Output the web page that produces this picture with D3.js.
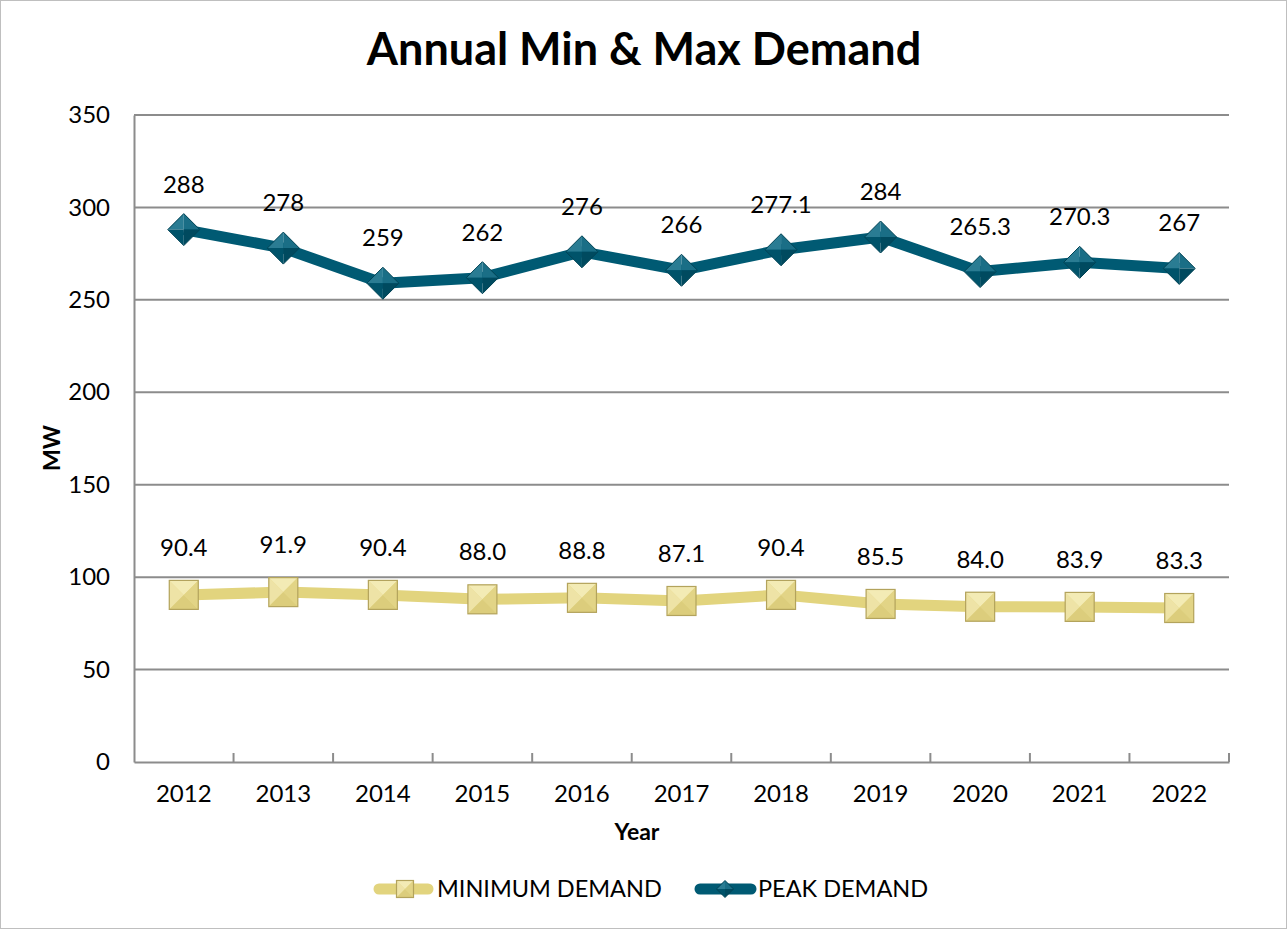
<!DOCTYPE html>
<html><head><meta charset="utf-8">
<script src="https://cdn.jsdelivr.net/npm/d3@7/dist/d3.min.js"></script>
<style>body{margin:0;background:#fff}svg{display:block}</style>
</head><body><svg id="c" width="1288" height="930"></svg>
<script>
const years = ["2012","2013","2014","2015","2016","2017","2018","2019","2020","2021","2022"];
const peakDemand = [288,278,259,262,276,266,277.1,284,265.3,270.3,267];
const peakLabels = ["288","278","259","262","276","266","277.1","284","265.3","270.3","267"];
const minDemand = [90.4,91.9,90.4,88.0,88.8,87.1,90.4,85.5,84.0,83.9,83.3];
const minLabels = ["90.4","91.9","90.4","88.0","88.8","87.1","90.4","85.5","84.0","83.9","83.3"];
const yTicks = [0,50,100,150,200,250,300,350];

const FONT = "Lato, 'Open Sans', sans-serif";
const svg = d3.select("#c");
svg.append("rect").attr("x",0.5).attr("y",0.5).attr("width",1286).attr("height",928)
  .attr("fill","#fff").attr("stroke","#bfbfbf").attr("stroke-width",1);

const L=134,R=1229,T=115,B=762;
const x = d3.scaleBand().domain(years).range([L,R]).padding(0);
const y = d3.scaleLinear().domain([0,350]).range([B,T]);
const cx = d => x(d)+x.bandwidth()/2;

// gridlines
svg.append("g").selectAll("line").data(yTicks.filter(t=>t>0)).join("line")
  .attr("x1",L).attr("x2",R).attr("y1",d=>y(d)).attr("y2",d=>y(d))
  .attr("stroke","#8c8c8c").attr("stroke-width",2);

// y axis
const ya = svg.append("g").attr("transform",`translate(${L},0)`)
  .call(d3.axisLeft(y).tickValues(yTicks).tickSize(0).tickPadding(24));
ya.select(".domain").attr("stroke","#8c8c8c").attr("stroke-width",2);
ya.selectAll("text").attr("font-family",FONT).attr("font-size",24).attr("fill","#000");

// x axis
const xa = svg.append("g").attr("transform",`translate(0,${B})`)
  .call(d3.axisBottom(x).tickSize(0).tickPadding(23));
xa.select(".domain").attr("stroke","#8c8c8c").attr("stroke-width",2);
xa.selectAll("text").attr("font-family",FONT).attr("font-size",24).attr("fill","#000");
// between-category tick marks (inside)
svg.append("g").selectAll("line").data(years.slice(1).concat(["end"])).join("line")
  .attr("x1",d=>d==="end"?R:x(d)).attr("x2",d=>d==="end"?R:x(d))
  .attr("y1",B).attr("y2",B-9).attr("stroke","#8c8c8c").attr("stroke-width",2);

// titles
svg.append("text").attr("x",644).attr("y",65).attr("text-anchor","middle")
  .attr("font-family",FONT).attr("font-weight","bold").attr("font-size",45).text("Annual Min & Max Demand");
svg.append("text").attr("x",637).attr("y",840).attr("text-anchor","middle")
  .attr("font-family",FONT).attr("font-weight","bold").attr("font-size",23).text("Year");
svg.append("text").attr("transform","translate(60,448) rotate(-90)").attr("text-anchor","middle")
  .attr("font-family",FONT).attr("font-weight","bold").attr("font-size",23).text("MW");

const PEAK="#005a73", MIN="#e2d47e";

function squareMarker(g,px,py,s){
  const h=s/2;
  const m=g.append("g").attr("transform",`translate(${px},${py})`);
  m.append("rect").attr("x",-h).attr("y",-h).attr("width",s).attr("height",s).attr("fill","#e8dc8f");
  const tri=(pts,f)=>m.append("polygon").attr("points",pts.map(p=>p.join(",")).join(" ")).attr("fill",f);
  tri([[-h,-h],[h,-h],[0,0]],"#f3ebb5");
  tri([[-h,-h],[-h,h],[0,0]],"#eee3a6");
  tri([[h,-h],[h,h],[0,0]],"#e2d486");
  tri([[-h,h],[h,h],[0,0]],"#dccd7c");
  m.append("rect").attr("x",-h).attr("y",-h).attr("width",s).attr("height",s)
    .attr("fill","none").attr("stroke","#b3a35c").attr("stroke-width",1.2);
}
function diamondMarker(g,px,py,s){
  const h=s/2;
  const m=g.append("g").attr("transform",`translate(${px},${py})`);
  const tri=(pts,f)=>m.append("polygon").attr("points",pts.map(p=>p.join(",")).join(" ")).attr("fill",f);
  tri([[-h,0],[0,-h],[0,0]],"#2a7c93");
  tri([[0,-h],[h,0],[0,0]],"#1a6e86");
  tri([[-h,0],[0,h],[0,0]],"#00536a");
  tri([[h,0],[0,h],[0,0]],"#004a5f");
  m.append("polygon").attr("points",`${-h},0 0,${-h} ${h},0 0,${h}`)
    .attr("fill","none").attr("stroke","#004355").attr("stroke-width",1);
}

const line = d3.line().x((d,i)=>cx(years[i])).y(d=>y(d));
svg.append("path").datum(minDemand).attr("d",line).attr("fill","none")
  .attr("stroke",MIN).attr("stroke-width",11).attr("stroke-linejoin","round");
svg.append("path").datum(peakDemand).attr("d",line).attr("fill","none")
  .attr("stroke",PEAK).attr("stroke-width",11).attr("stroke-linejoin","round");

const mg = svg.append("g");
minDemand.forEach((v,i)=>squareMarker(mg,cx(years[i]),y(v),29));
peakDemand.forEach((v,i)=>diamondMarker(mg,cx(years[i]),y(v),32));

// data labels
svg.append("g").selectAll("text").data(minDemand).join("text")
  .attr("x",(d,i)=>cx(years[i])).attr("y",d=>y(d)-39).attr("text-anchor","middle")
  .attr("font-family",FONT).attr("font-size",24).text((d,i)=>minLabels[i]);
svg.append("g").selectAll("text").data(peakDemand).join("text")
  .attr("x",(d,i)=>cx(years[i])).attr("y",d=>y(d)-37).attr("text-anchor","middle")
  .attr("font-family",FONT).attr("font-size",24).text((d,i)=>peakLabels[i]);

// legend
const lg = svg.append("g");
lg.append("line").attr("x1",379).attr("x2",428).attr("y1",889).attr("y2",889)
  .attr("stroke",MIN).attr("stroke-width",11).attr("stroke-linecap","round");
squareMarker(lg,405,889,17);
lg.append("text").attr("x",437).attr("y",897).attr("font-family",FONT).attr("font-size",23.5).text("MINIMUM DEMAND");
lg.append("line").attr("x1",700).attr("x2",751).attr("y1",889).attr("y2",889)
  .attr("stroke",PEAK).attr("stroke-width",11).attr("stroke-linecap","round");
diamondMarker(lg,725,889,17);
lg.append("text").attr("x",758).attr("y",897).attr("font-family",FONT).attr("font-size",23.5).text("PEAK DEMAND");
</script></body></html>
